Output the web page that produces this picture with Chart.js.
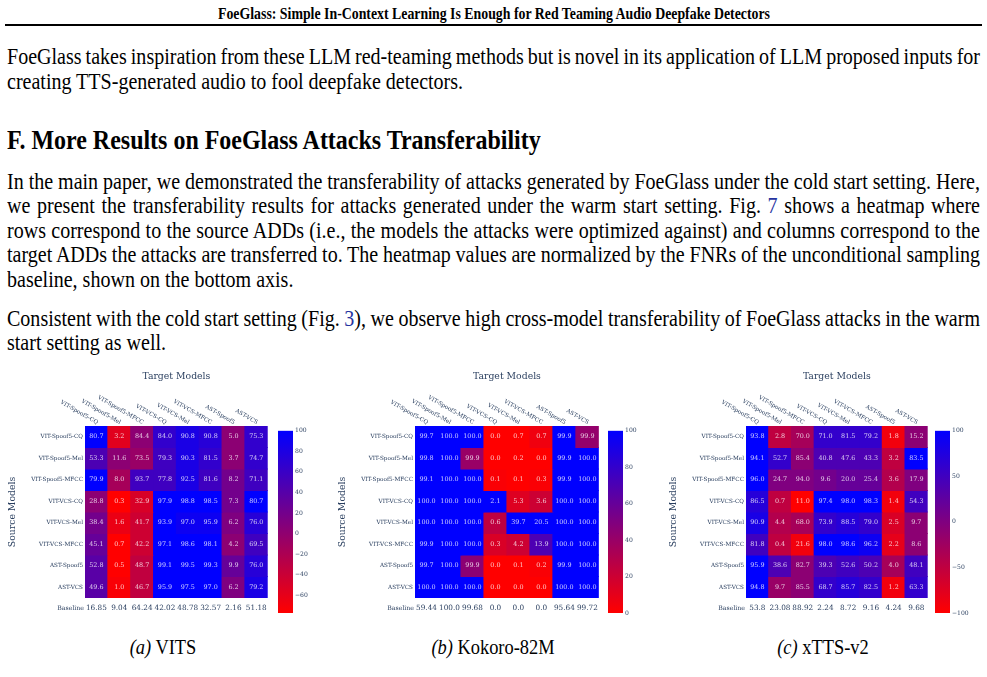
<!DOCTYPE html>
<html>
<head>
<meta charset="utf-8">
<script src="https://cdn.jsdelivr.net/npm/chart.js@4.4.1/dist/chart.umd.min.js"></script>
<style>
html, body { margin: 0; padding: 0; background: #fff; }
body { width: 987px; height: 677px; position: relative; overflow: hidden; font-family: 'Liberation Serif', 'Times New Roman', serif; color: #000; }
.ln { position: absolute; left: 7px; white-space: nowrap; font-size: 22.3px; line-height: 25px; transform-origin: 0 0; transform: scaleX(0.898); }
.hdr { position: absolute; left: 218px; top: 3px; font-weight: bold; font-size: 17.5px; line-height: 20px; white-space: nowrap; transform-origin: 0 0; }
.rule { position: absolute; left: 5px; top: 24px; width: 977px; height: 2px; background: #000; }
.sec { font-weight: bold; font-size: 26.7px; line-height: 30px; }
.lk { color: #2633a0; }
.cap { position: absolute; top: 635px; width: 300px; font-size: 20.5px; line-height: 25px; white-space: nowrap; text-align: center; transform: scaleX(0.898); transform-origin: 50% 0; }
canvas { position: absolute; }
</style>
</head>
<body>
<div class="hdr" id="hdr">FoeGlass: Simple In-Context Learning Is Enough for Red Teaming Audio Deepfake Detectors</div>
<div class="rule"></div>

<div class="ln j" style="top:44px">FoeGlass takes inspiration from these LLM red-teaming methods but is novel in its application of LLM proposed inputs for</div>
<div class="ln" style="top:68.5px">creating TTS-generated audio to fool deepfake detectors.</div>

<div class="ln sec" style="top:125px">F. More Results on FoeGlass Attacks Transferability</div>

<div class="ln j" style="top:168.5px">In the main paper, we demonstrated the transferability of attacks generated by FoeGlass under the cold start setting. Here,</div>
<div class="ln j" style="top:193px">we present the transferability results for attacks generated under the warm start setting. Fig. <span class="lk">7</span> shows a heatmap where</div>
<div class="ln j" style="top:217.5px">rows correspond to the source ADDs (i.e., the models the attacks were optimized against) and columns correspond to the</div>
<div class="ln j" style="top:242px">target ADDs the attacks are transferred to. The heatmap values are normalized by the FNRs of the unconditional sampling</div>
<div class="ln" style="top:266.5px">baseline, shown on the bottom axis.</div>

<div class="ln j" style="top:305.5px">Consistent with the cold start setting (Fig. <span class="lk">3</span>), we observe high cross-model transferability of FoeGlass attacks in the warm</div>
<div class="ln" style="top:330px">start setting as well.</div>

<canvas id="hm-vits" width="273" height="255" style="left:0px;top:365px"></canvas>
<canvas id="cb-vits" width="40" height="195" style="left:278px;top:425px"></canvas>
<canvas id="hm-kok" width="274" height="255" style="left:330px;top:365px"></canvas>
<canvas id="cb-kok" width="40" height="195" style="left:608px;top:425px"></canvas>
<canvas id="hm-xtts" width="270" height="255" style="left:661px;top:365px"></canvas>
<canvas id="cb-xtts" width="40" height="195" style="left:935px;top:425px"></canvas>

<div class="cap" style="left:13px"><i>(a)</i> VITS</div>
<div class="cap" style="left:343px"><i>(b)</i> Kokoro-82M</div>
<div class="cap" style="left:673px"><i>(c)</i> xTTS-v2</div>

<script>
// models (rows = source, columns = target)
const targetModels = ['VIT-Spoof5-CQ', 'VIT-Spoof5-Mel', 'VIT-Spoof5-MFCC', 'VIT-VCS-CQ', 'VIT-VCS-Mel', 'VIT-VCS-MFCC', 'AST-Spoof5', 'AST-VCS'];
const sourceModels = ['VIT-Spoof5-CQ', 'VIT-Spoof5-Mel', 'VIT-Spoof5-MFCC', 'VIT-VCS-CQ', 'VIT-VCS-Mel', 'VIT-VCS-MFCC', 'AST-Spoof5', 'AST-VCS'];

// (a) VITS
const vitsValues = [
  [80.7, 3.2, 84.4, 84.0, 90.8, 90.8, 5.0, 75.3],
  [53.3, 11.6, 73.5, 79.3, 90.3, 81.5, 3.7, 74.7],
  [79.9, 8.0, 93.7, 77.8, 92.5, 81.6, 8.2, 71.1],
  [28.8, 0.3, 32.9, 97.9, 98.8, 98.5, 7.3, 80.7],
  [38.4, 1.6, 41.7, 93.9, 97.0, 95.9, 6.2, 76.0],
  [45.1, 0.7, 42.2, 97.1, 98.6, 98.1, 4.2, 69.5],
  [52.8, 0.5, 48.7, 99.1, 99.5, 99.3, 9.9, 76.0],
  [49.6, 1.0, 46.7, 95.9, 97.5, 97.0, 6.2, 79.2]
];
// normalized score that drives the colour
const vitsScore = [
  [100, -56, 3, 65, 82, 73, 3, 65],
  [47, 3, -6, 56, 82, 65, 3, 65],
  [100, -15, 56, 56, 82, 56, 20, 56],
  [3, -77, -50, 100, 100, 100, 20, 100],
  [20, -63, -42, 100, 91, 91, 12, 73],
  [29, -77, -42, 100, 100, 100, 3, 56],
  [38, -77, -33, 100, 100, 100, 29, 73],
  [38, -73, -33, 100, 100, 100, 12, 82]
];
const vitsBaseline = ['16.85', '9.04', '64.24', '42.02', '48.78', '32.57', '2.16', '51.18'];
const vitsTicks = [100, 80, 60, 40, 20, 0, -20, -40, -60];

// (b) Kokoro-82M
const kokValues = [
  [99.7, 100.0, 100.0, 0.0, 0.7, 0.7, 99.9, 99.9],
  [99.8, 100.0, 99.9, 0.0, 0.2, 0.0, 99.9, 100.0],
  [99.1, 100.0, 100.0, 0.1, 0.1, 0.3, 99.9, 100.0],
  [100.0, 100.0, 100.0, 2.1, 5.3, 3.6, 100.0, 100.0],
  [100.0, 100.0, 100.0, 0.6, 39.7, 20.5, 100.0, 100.0],
  [99.9, 100.0, 100.0, 0.3, 4.2, 13.9, 100.0, 100.0],
  [99.7, 100.0, 99.9, 0.0, 0.1, 0.2, 99.9, 100.0],
  [100.0, 100.0, 100.0, 0.0, 0.0, 0.0, 100.0, 100.0]
];
const kokScore = [
  [100, 100, 100, 0, 0, 6, 100, 42],
  [100, 100, 40, 0, 0, 0, 100, 100],
  [100, 100, 100, 2, 0, 2, 100, 100],
  [100, 100, 100, 100, 13, 20, 100, 100],
  [100, 100, 100, 25, 100, 100, 100, 100],
  [100, 100, 100, 15, 20, 70, 100, 100],
  [100, 100, 45, 0, 0, 2, 100, 100],
  [100, 100, 100, 0, 0, 0, 100, 100]
];
const kokBaseline = ['59.44', '100.0', '99.68', '0.0', '0.0', '0.0', '95.64', '99.72'];
const kokTicks = [100, 80, 60, 40, 20, 0];

// (c) xTTS-v2
const xttsValues = [
  [93.8, 2.8, 70.0, 71.0, 81.5, 79.2, 1.8, 15.2],
  [94.1, 52.7, 85.4, 40.8, 47.6, 43.3, 3.2, 83.5],
  [96.0, 24.7, 94.0, 9.6, 20.0, 25.4, 3.6, 17.9],
  [86.5, 0.7, 11.0, 97.4, 98.0, 98.3, 1.4, 54.3],
  [90.9, 4.4, 68.0, 73.9, 88.5, 79.0, 2.5, 9.7],
  [81.8, 0.4, 21.6, 98.0, 98.6, 96.2, 2.2, 8.6],
  [95.9, 38.6, 82.7, 39.3, 52.6, 50.2, 4.0, 48.1],
  [94.8, 9.7, 85.5, 68.7, 85.7, 82.5, 1.2, 63.3]
];
const xttsScore = [
  [100, -50, -30, 60, 60, 60, -90, -10],
  [100, 60, -10, 40, 40, 40, -50, 100],
  [100, 0, 0, 10, 20, 20, -40, 0],
  [70, -50, -100, 100, 100, 100, -90, 50],
  [80, -40, -30, 60, 70, 60, -70, -10],
  [50, -50, -90, 100, 100, 90, -80, -10],
  [100, 40, -10, 40, 50, 40, -30, 50],
  [100, -20, -10, 60, 70, 60, -90, 60]
];
const xttsBaseline = ['53.8', '23.08', '88.92', '2.24', '8.72', '9.16', '4.24', '9.68'];
const xttsTicks = [100, 50, 0, -50, -100];

const AXIS_FONT = 'DejaVu Serif';
const INK = '#2a3f5f';

// justify the full-width text lines
document.querySelectorAll('.ln.j').forEach(el => {
  const target = 973 / 0.898;
  const w = el.getBoundingClientRect().width / 0.898;
  const n = (el.textContent.match(/ /g) || []).length;
  el.style.wordSpacing = ((target - w) / n) + 'px';
});
// running header squeezed to the width it has on the page
const hdr = document.getElementById('hdr');
hdr.style.transform = 'scaleX(' + (552 / hdr.getBoundingClientRect().width) + ')';

function cellColor(z, zmin, zmax) {
  const t = Math.max(0, Math.min(1, (z - zmin) / (zmax - zmin)));
  return 'rgb(' + Math.round(255 * (1 - t)) + ',0,' + Math.round(255 * t) + ')';
}

const heatLabels = {
  id: 'heatLabels',
  afterDatasetsDraw(chart, args, opts) {
    const ctx = chart.ctx;
    ctx.save();
    ctx.font = '6.4px "' + AXIS_FONT + '"';
    ctx.fillStyle = 'rgba(255,255,255,0.78)';
    ctx.textAlign = 'center';
    ctx.textBaseline = 'middle';
    chart.data.datasets.forEach((ds, r) => {
      chart.getDatasetMeta(r).data.forEach((bar, c) => {
        ctx.fillText(opts.values[r][c].toFixed(1), bar.x, (bar.y + bar.base) / 2);
      });
    });
    ctx.restore();
  },
  afterDraw(chart) {
    const {ctx, chartArea, scales} = chart;
    ctx.save();
    ctx.fillStyle = INK;
    ctx.textBaseline = 'middle';
    ctx.font = '9.3px "' + AXIS_FONT + '"';
    ctx.textAlign = 'center';
    ctx.fillText('Target Models', (chartArea.left + chartArea.right) / 2, 12);
    // slanted column names above the grid
    ctx.font = '5.7px "' + AXIS_FONT + '"';
    ctx.textAlign = 'right';
    targetModels.forEach((name, i) => {
      ctx.save();
      ctx.translate(scales.x.getPixelForValue(i) + 1, chartArea.top - 3);
      ctx.rotate(Math.PI / 6);
      ctx.fillText(name, 0, 0);
      ctx.restore();
    });
    ctx.font = '6.2px "' + AXIS_FONT + '"';
    ctx.fillText('Baseline', chartArea.left - 1, chartArea.bottom + 10.5);
    ctx.restore();
  }
};

function makeHeatmap(id, values, score, baseline, zmin, zmax, rightPad) {
  new Chart(document.getElementById(id), {
    type: 'bar',
    data: {
      labels: targetModels,
      datasets: sourceModels.map((name, r) => ({
        label: name,
        data: targetModels.map(() => [r, r + 1]),
        backgroundColor: score[r].map(z => cellColor(z, zmin, zmax)),
        borderWidth: 0,
        inflateAmount: 0.5,
        grouped: false,
        barPercentage: 1,
        categoryPercentage: 1
      }))
    },
    options: {
      responsive: false,
      animation: false,
      devicePixelRatio: 1,
      layout: {padding: {top: 61, right: rightPad, bottom: 0, left: 0}},
      plugins: {
        legend: {display: false},
        tooltip: {enabled: false},
        heatLabels: {values: values}
      },
      scales: {
        x: {
          grid: {display: false, drawTicks: false},
          border: {display: false},
          ticks: {
            callback: (v, i) => baseline[i],
            font: {family: AXIS_FONT, size: 7.3},
            color: INK, padding: 6, maxRotation: 0, autoSkip: false
          },
          afterFit: s => { s.height = 22; }
        },
        y: {
          min: 0, max: 8, reverse: true,
          grid: {display: false, drawTicks: false},
          border: {display: false},
          afterBuildTicks: s => { s.ticks = sourceModels.map((n, i) => ({value: i + 0.5})); },
          ticks: {
            callback: v => sourceModels[Math.floor(v)],
            font: {family: AXIS_FONT, size: 5.7},
            color: INK, padding: 2, autoSkip: false
          },
          title: {
            display: true, text: 'Source Models',
            font: {family: AXIS_FONT, size: 9.3},
            color: INK, padding: {top: 7, bottom: 0}
          },
          afterFit: s => { s.width = 85; }
        }
      }
    },
    plugins: [heatLabels]
  });
}

function makeColorbar(id, zmin, zmax, ticks) {
  new Chart(document.getElementById(id), {
    type: 'bar',
    data: {
      labels: [''],
      datasets: [{
        data: [[zmin, zmax]],
        borderWidth: 0,
        barPercentage: 1,
        categoryPercentage: 1,
        backgroundColor: c => {
          const a = c.chart.chartArea;
          if (!a) return 'blue';
          const g = c.chart.ctx.createLinearGradient(0, a.bottom, 0, a.top);
          g.addColorStop(0, 'rgb(255,0,0)');
          g.addColorStop(1, 'rgb(0,0,255)');
          return g;
        }
      }]
    },
    options: {
      responsive: false,
      animation: false,
      devicePixelRatio: 1,
      layout: {padding: {top: 5.7, bottom: 7, left: 0, right: 0}},
      plugins: {legend: {display: false}, tooltip: {enabled: false}},
      scales: {
        x: {display: false},
        y: {
          position: 'right', min: zmin, max: zmax,
          grid: {display: false, drawTicks: false},
          border: {display: false},
          afterBuildTicks: s => { s.ticks = ticks.map(v => ({value: v})); },
          ticks: {
            callback: v => v < 0 ? '\u2212' + Math.abs(v) : String(v),
            font: {family: AXIS_FONT, size: 6.1},
            color: INK, padding: 2
          },
          afterFit: s => { s.width = 25; }
        }
      }
    }
  });
}

makeHeatmap('hm-vits', vitsValues, vitsScore, vitsBaseline, -77, 100, 4);
makeColorbar('cb-vits', -77, 100, vitsTicks);
makeHeatmap('hm-kok', kokValues, kokScore, kokBaseline, 0, 100, 3.3);
makeColorbar('cb-kok', 0, 100, kokTicks);
makeHeatmap('hm-xtts', xttsValues, xttsScore, xttsBaseline, -100, 100, 3.3);
makeColorbar('cb-xtts', -100, 100, xttsTicks);
</script>
</body>
</html>
